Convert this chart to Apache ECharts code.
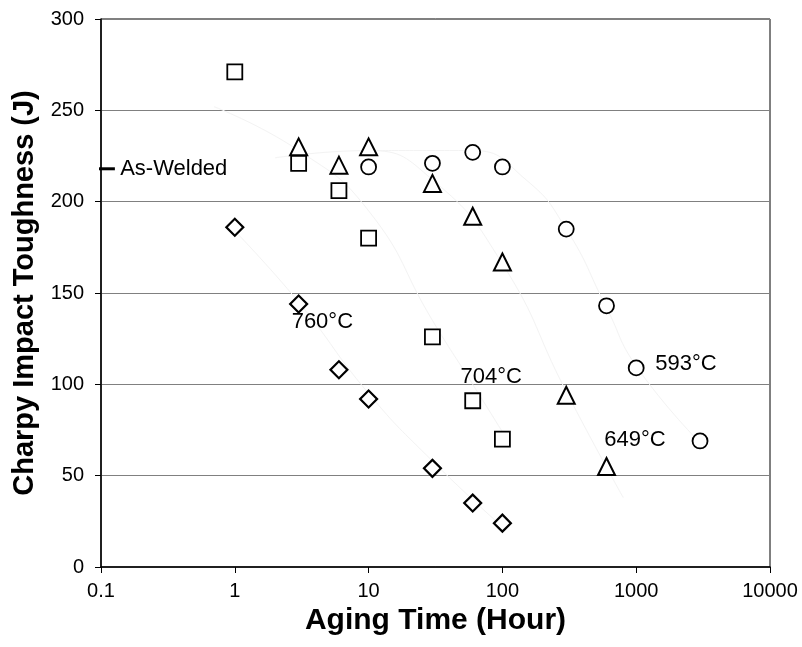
<!DOCTYPE html>
<html>
<head>
<meta charset="utf-8">
<script src="https://cdn.jsdelivr.net/npm/echarts@6/dist/echarts.min.js"></script>
<style>
  body { margin: 0; background: #fff; }
  #main { width: 802px; height: 647px; }
</style>
</head>
<body>
<div id="main"></div>
<script>
// aging time (hour) vs charpy toughness (J)
var t593 = [10, 30, 60, 100, 300, 600, 1000, 3000]
var v593 = [219, 221, 227, 219, 185, 143, 109, 69]
var t649 = [3, 6, 10, 30, 60, 100, 300, 600]
var v649 = [230, 220, 230, 210, 192, 167, 94, 55]
var t704 = [1, 3, 6, 10, 30, 60, 100]
var v704 = [271, 221, 206, 180, 126, 91, 70]
var t760 = [1, 3, 6, 10, 30, 60, 100]
var v760 = [186, 144, 108, 92, 54, 35, 24]

// faint trend curves
var tr593 = [[10, 228], [60, 228], [150, 212], [300, 185], [600, 142], [1000, 110], [3000, 68]]
var tr649 = [[2, 224], [10, 228], [30, 212], [100, 166], [300, 96], [800, 38]]
var tr704 = [[0.7, 252], [3, 228], [10, 195], [30, 135], [60, 100], [100, 74]]
var tr760 = [[1, 184], [3, 145], [10, 95], [30, 58], [100, 22]]

var asWelded = 218
// text labels [x, y, text]
var labels = [
  [2.66, 134, '760°C'],
  [48.6, 104, '704°C'],
  [1387, 111, '593°C'],
  [577, 69.5, '649°C'],
  [0.139, 218, 'As-Welded']
]
var xTicks = ['0.1', '1', '10', '100', '1000', '10000']

var font = 'Liberation Sans, Arial, sans-serif'

function pairs(xs, ys) {
  return xs.map(function (x, i) { return [x, ys[i]] })
}

function marker(name, data, symbol, size, rot, bw) {
  return {
    name: name,
    type: 'scatter',
    data: data,
    symbol: symbol,
    symbolSize: size,
    symbolRotate: rot || 0,
    itemStyle: { color: '#fff', borderColor: '#000', borderWidth: bw || 1.8, opacity: 1 },
    z: 5
  }
}

function trend(data) {
  return {
    type: 'line',
    data: data,
    smooth: true,
    showSymbol: false,
    silent: true,
    lineStyle: { color: '#f3f3f3', width: 1 },
    z: 1
  }
}

var myChart = echarts.init(document.getElementById('main'))
var option = {
  animation: false,
  backgroundColor: '#fff',
  grid: {
    left: 101, right: 32, top: 19, bottom: 80,
    show: true, borderColor: '#000', borderWidth: 1
  },
  xAxis: {
    type: 'log',
    logBase: 10,
    min: 0.1,
    max: 10000,
    name: 'Aging Time (Hour)',
    nameLocation: 'middle',
    nameGap: 30,
    nameTextStyle: { fontFamily: font, fontSize: 30, fontWeight: 'bold', color: '#000' },
    axisLine: { lineStyle: { color: '#000', width: 1.5 } },
    axisTick: { show: true, length: 6, lineStyle: { color: '#000' } },
    minorTick: { show: false },
    splitLine: { show: false },
    axisLabel: {
      fontFamily: font, fontSize: 20, color: '#000', margin: 14,
      formatter: function (v) {
        var i = Math.round(Math.log10(v)) + 1
        return xTicks[i] || ''
      }
    }
  },
  yAxis: {
    type: 'value',
    min: 0,
    max: 300,
    interval: 50,
    name: 'Charpy Impact Toughness (J)',
    nameLocation: 'middle',
    nameGap: 58,
    nameTextStyle: { fontFamily: font, fontSize: 29, fontWeight: 'bold', color: '#000' },
    axisLine: { show: true, lineStyle: { color: '#000', width: 1.5 } },
    axisTick: { show: true, length: 6, lineStyle: { color: '#000' } },
    splitLine: { show: true, lineStyle: { color: '#808080', width: 1.2 } },
    axisLabel: { fontFamily: font, fontSize: 20, color: '#000', margin: 17 }
  },
  series: [
    trend(tr593), trend(tr649), trend(tr704), trend(tr760),
    marker('593', pairs(t593, v593), 'circle', 15),
    marker('649', pairs(t649, v649), 'triangle', 17, 0, 2),
    marker('704', pairs(t704, v704), 'rect', 15),
    marker('760', pairs(t760, v760), 'rect', 12, 45, 2.2),
    {
      type: 'scatter',
      data: labels,
      symbolSize: 0,
      silent: true,
      itemStyle: { opacity: 1 },
      label: {
        show: true,
        position: 'inside',
        align: 'left',
        verticalAlign: 'middle',
        fontFamily: font,
        fontSize: 22,
        color: '#000',
        formatter: function (p) { return p.data[2] }
      },
      z: 6
    },
    {
      // short dash marking the as-welded level on the y axis
      type: 'line',
      data: [[0.086, asWelded], [0.127, asWelded]],
      showSymbol: false,
      silent: true,
      clip: false,
      lineStyle: { color: '#000', width: 3 },
      z: 7
    }
  ]
}
myChart.setOption(option)
</script>
</body>
</html>
